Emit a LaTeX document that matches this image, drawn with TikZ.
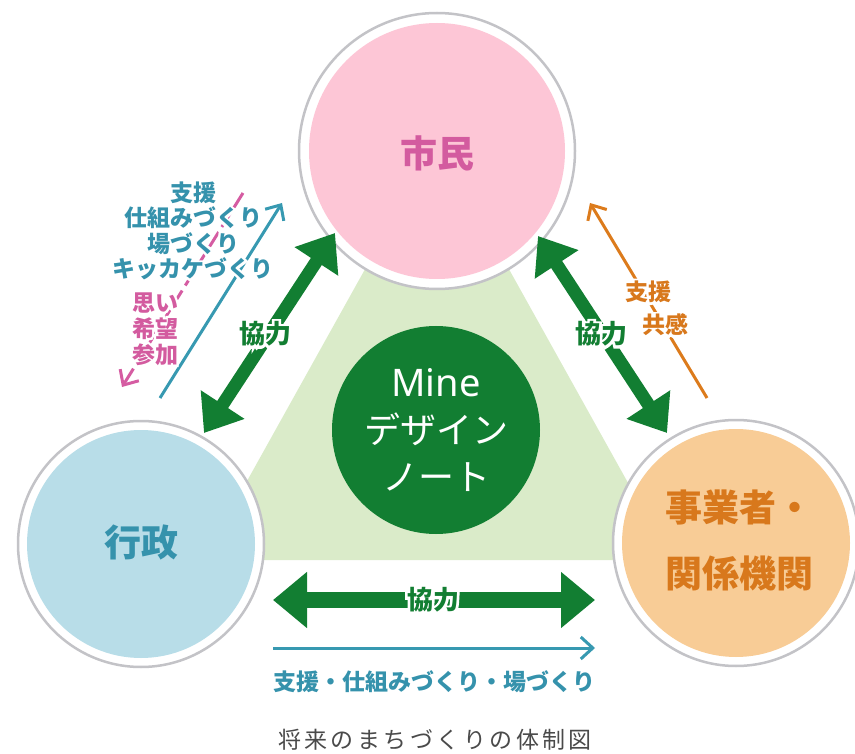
\documentclass[tikz,border=0pt]{standalone}
\usepackage{fontspec}
\setmainfont{Noto Sans CJK JP}
\newfontfamily\minefont{Noto Sans}
\usetikzlibrary{arrows.meta}
\definecolor{gring}{HTML}{C3C3C7}
\definecolor{pinkfill}{HTML}{FDC6D6}
\definecolor{pinktxt}{HTML}{D35B9F}
\definecolor{bluefill}{HTML}{B8DDE8}
\definecolor{bluetxt}{HTML}{3592AC}
\definecolor{orgfill}{HTML}{F8CC96}
\definecolor{orgtxt}{HTML}{D8781C}
\definecolor{dgreen}{HTML}{127E32}
\definecolor{lgreen}{HTML}{DAEBC9}
\definecolor{tealline}{HTML}{3799B1}
\definecolor{pinkline}{HTML}{D55CA2}
\definecolor{orgline}{HTML}{DC7B1C}
\definecolor{captxt}{HTML}{4A4A4A}
\newcommand\halohook{}
\tikzset{
  ring/.style={circle, draw=gring, line width=2.5pt, fill=white, inner sep=0pt, minimum size=#1},
  disc/.style={circle, inner sep=0pt, minimum size=#1},
  biglbl/.style={font=\fontsize{37}{40}\selectfont\bfseries, inner sep=0pt},
  midtxt/.style={font=\fontsize{23}{25.3}\selectfont\bfseries\halohook, inner sep=0pt, align=center},
  garrow/.style={dgreen, line width=13pt, {Triangle[length=34pt,width=50pt]}-{Triangle[length=34pt,width=50pt]}},
  hgarrow/.style={dgreen, line width=16pt, {Triangle[length=34pt,width=54pt]}-{Triangle[length=34pt,width=54pt]}},
  thinarrow/.style={line width=3pt, -{Straight Barb[length=12pt,width=22pt]}},
  kyo/.style={font=\fontsize{26}{28}\selectfont\bfseries\halohook, text=dgreen, inner sep=0pt},
}
\newcommand\halonode[4]{%
  \begingroup\def\halohook{\addfontfeature{FakeBold=20}}%
  \node[#3,text=white] at (#2) {#4};%
  \endgroup
  \node[#3] (#1) at (#2) {#4};%
}
\begin{document}
\begin{tikzpicture}[x=1pt,y=-1pt]
\useasboundingbox (0,0) rectangle (855,754);
% light green triangle
\fill[lgreen] (437,140) -- (203,560) -- (671,560) -- cycle;
% circles
\node[ring=276pt] (citizenRing) at (437,151) {};
\node[disc=256pt, fill=pinkfill] (citizen) at (437,151) {};
\node[ring=246pt] (govRing) at (141,544) {};
\node[disc=228pt, fill=bluefill] (gov) at (141,544) {};
\node[ring=246pt] (bizRing) at (736,543) {};
\node[disc=228pt, fill=orgfill] (biz) at (736,543) {};
\node[disc=208pt, fill=dgreen] (mine) at (436,430) {};
% labels
\node[biglbl, text=pinktxt] (citizenLbl) at (437,153) {市民};
\node[biglbl, text=bluetxt] (govLbl) at (141,542) {行政};
\node[biglbl, text=orgtxt, align=left, font=\fontsize{37}{66}\selectfont\bfseries] (bizLbl) at (739,540) {事業者・\\関係機関};
\node[text=white, align=center, inner sep=0pt, font=\fontsize{36}{47}\selectfont] (mineLbl) at (436,430) {{\minefont\fontsize{38}{47}\selectfont Mine}\\デザイン\\ノート};
% green double arrows
\coordinate (gL1) at (335,233);
\coordinate (gL2) at (204,433);
\coordinate (gR1) at (538,236);
\coordinate (gR2) at (667,433);
\coordinate (gB1) at (273,600);
\coordinate (gB2) at (595,600);
\draw[garrow] (gL2) -- (gL1);
\draw[garrow] (gR1) -- (gR2);
\draw[hgarrow] (gB1) -- (gB2);
% thin arrows
\coordinate (tL1) at (160,398);
\coordinate (tL2) at (282,203);
\coordinate (pL1) at (243,193);
\coordinate (pL2) at (122,387);
\coordinate (oR1) at (707,398);
\coordinate (oR2) at (590,203);
\coordinate (tB1) at (273,648);
\coordinate (tB2) at (595,648);
\draw[thinarrow, tealline] (tL1) -- (tL2);
\draw[thinarrow, pinkline, dash pattern=on 17pt off 6pt] (pL1) -- (pL2);
\draw[thinarrow, orgline] (oR1) -- (oR2);
\draw[thinarrow, tealline] (tB1) -- (tB2);
% texts with white halo
\halonode{kyoL}{265,334}{kyo}{協力}
\halonode{kyoR}{601,334}{kyo}{協力}
\halonode{kyoB}{433,600}{kyo}{協力}
\halonode{supL}{193,231}{midtxt, text=bluetxt}{支援\\仕組みづくり\\場づくり\\キッカケづくり}
\halonode{wishL}{155,329}{midtxt, text=pinktxt, font=\fontsize{23}{26}\selectfont\bfseries\halohook}{思い\\希望\\参加}
\halonode{supR}{648,292}{midtxt, text=orgtxt}{支援}
\halonode{empR}{665,325}{midtxt, text=orgtxt}{共感}
\node[midtxt, text=bluetxt] (supB) at (434,682) {支援・仕組みづくり・場づくり};
% caption
\node[inner sep=0pt, text=captxt, font=\fontsize{23}{26}\selectfont\addfontfeature{LetterSpace=15}] (cap) at (435,740) {将来のまちづくりの体制図};
\end{tikzpicture}
\end{document}
